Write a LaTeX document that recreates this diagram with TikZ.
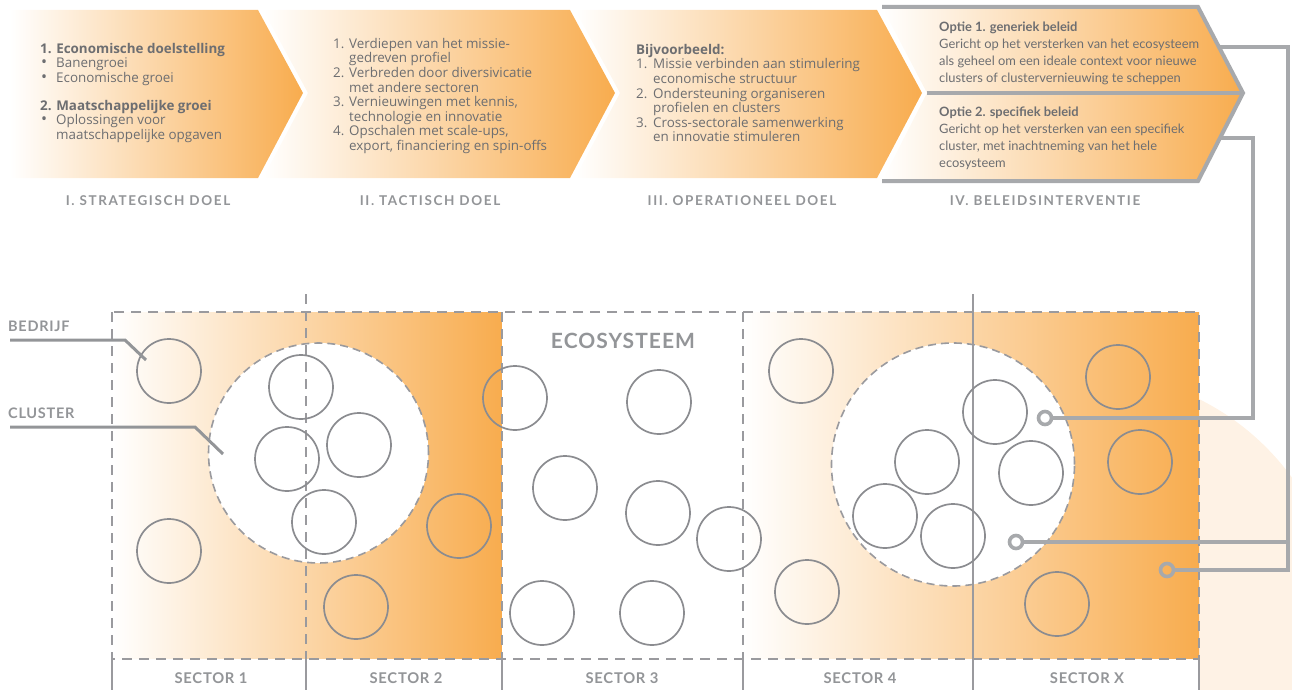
\documentclass[tikz,border=0pt]{standalone}
\usepackage{fontspec}
\setmainfont{Lato}
\newfontfamily\bodyfont{Open Sans}
\newfontfamily\capsfont[LetterSpace=12]{Lato}
\newfontfamily\sectfont[LetterSpace=5]{Lato}
\newcommand{\bul}{\makebox[16pt][l]{\hspace*{1pt}\smash{\fontsize{16}{14}\selectfont\textbullet}}}
\definecolor{orng}{HTML}{F8AC4E}
\definecolor{pale}{HTML}{FEF2E5}
\definecolor{txtgray}{HTML}{6D6E71}
\definecolor{lblgray}{HTML}{939598}
\definecolor{linegray}{HTML}{A7A9AC}
\definecolor{dashgray}{HTML}{9A9A9E}
\definecolor{circgray}{HTML}{8B8C90}
\begin{document}
\begin{tikzpicture}[x=1pt,y=-1pt,
  chevtxt/.style={anchor=north west,inner sep=0pt,align=left,text=txtgray,font=\bodyfont\fontsize{13.4}{14.6}\selectfont},
  opttxt/.style={anchor=north west,inner sep=0pt,align=left,text=txtgray,font=\fontsize{12.9}{17}\selectfont},
  steplbl/.style={anchor=base,inner sep=0pt,text=lblgray,font=\capsfont\bfseries\fontsize{13.5}{16}\selectfont},
  sectlbl/.style={anchor=base,inner sep=0pt,text=lblgray,font=\sectfont\bfseries\fontsize{14.8}{16}\selectfont},
  sidelbl/.style={anchor=base west,inner sep=0pt,text=lblgray,font=\sectfont\bfseries\fontsize{14.5}{16}\selectfont},
  firm/.style={circle,draw=circgray,line width=1.7pt,minimum size=64pt,inner sep=0pt},
  clusterc/.style={circle,fill=white,draw=dashgray,line width=1.6pt,dash pattern=on 8pt off 5pt,inner sep=0pt},
  dashln/.style={draw=dashgray,line width=1.8pt,dash pattern=on 10pt off 7pt},
  solidln/.style={draw=dashgray,line width=1.6pt},
  conn/.style={draw=linegray,line width=3.6pt},
  dotc/.style={circle,draw=linegray,line width=3.6pt,minimum size=13pt,inner sep=0pt},
  lead/.style={draw=lblgray,line width=3pt},
  frame/.style={draw=linegray,line width=4pt}
]
\useasboundingbox (0,0) rectangle (1292,690);
% background pale circle
\begin{scope}
  \clip (0,0) rectangle (1292,690);
  \fill[pale] (1087,626) circle (253);
\end{scope}
% chevrons
\shade[left color=white,right color=orng] (10,10) -- (258,10) -- (303,93) -- (258,178) -- (10,178) -- cycle;
\shade[left color=white,right color=orng] (263,10) -- (570,10) -- (615,93) -- (570,178) -- (263,178) -- (308,93) -- cycle;
\shade[left color=white,right color=orng] (575,10) -- (877,10) -- (922,93) -- (877,178) -- (575,178) -- (620,93) -- cycle;
\shade[left color=white,right color=orng] (882,7) -- (1198,7) -- (1243,93) -- (927,93) -- cycle;
\shade[left color=white,right color=orng] (927,93) -- (1243,93) -- (1198,181) -- (882,181) -- cycle;
\draw[frame,line join=miter] (882,7) -- (1198,7) -- (1243,93) -- (1198,181) -- (882,181);
\draw[frame] (927,93) -- (1241,93);
% chevron texts
\node[chevtxt] (s1) at (40,43) {\textbf{1. Economische doelstelling}\\
\bul Banengroei\\
\bul Economische groei\\[13pt]
\textbf{2. Maatschappelijke groei}\\
\bul Oplossingen voor\\
\hspace*{16pt}maatschappelijke opgaven};
\node[chevtxt] (s2) at (333,38) {\makebox[16pt][l]{1.}Verdiepen van het missie-\\
\hspace*{16pt}gedreven profiel\\
\makebox[16pt][l]{2.}Verbreden door diversivicatie\\
\hspace*{16pt}met andere sectoren\\
\makebox[16pt][l]{3.}Vernieuwingen met kennis,\\
\hspace*{16pt}technologie en innovatie\\
\makebox[16pt][l]{4.}Opschalen met scale-ups,\\
\hspace*{16pt}export, financiering en spin-offs};
\node[chevtxt] (s3) at (636,44) {\textbf{Bijvoorbeeld:}\\
\makebox[17pt][l]{1.}Missie verbinden aan stimulering\\
\hspace*{17pt}economische structuur\\
\makebox[17pt][l]{2.}Ondersteuning organiseren\\
\hspace*{17pt}profielen en clusters\\
\makebox[17pt][l]{3.}Cross-sectorale samenwerking\\
\hspace*{17pt}en innovatie stimuleren};
\node[opttxt] (o1t) at (939,22) {\textbf{Optie 1. generiek beleid}\\
Gericht op het versterken van het ecosysteem\\
als geheel om een ideale context voor nieuwe\\
clusters of clustervernieuwing te scheppen};
\node[opttxt] (o2t) at (939,107) {\textbf{Optie 2. specifiek beleid}\\
Gericht op het versterken van een specifiek\\
cluster, met inachtneming van het hele\\
ecosysteem};
\node[steplbl] (l1) at (148,205) {I. STRATEGISCH DOEL};
\node[steplbl] (l2) at (430,205) {II. TACTISCH DOEL};
\node[steplbl] (l3) at (742,205) {III. OPERATIONEEL DOEL};
\node[steplbl] (l4) at (1045,205) {IV. BELEIDSINTERVENTIE};
% ecosystem area
\shade[left color=white,right color=orng] (112,312) rectangle (502,659);
\fill[white] (502,312) rectangle (743,659);
\shade[left color=white,right color=orng] (743,312) rectangle (1199,659);
\fill[white] (112,659) rectangle (1199,690);
\node[clusterc,minimum size=220pt] (c1) at (318.5,453) {};
\node[clusterc,minimum size=243pt] (c2) at (953,464.5) {};
% dividers
\draw[dashln] (306,294) -- (306,659);
\draw[dashln] (502,312) -- (502,659);
\draw[dashln] (743,312) -- (743,659);
\draw[solidln] (973,294) -- (973,690);
\draw[dashln] (112,312) rectangle (1199,659);
\foreach \xx in {112,306,502,743,1199} \draw[solidln] (\xx,659) -- (\xx,690);
% firms
\foreach \nm/\cx/\cy in {b1/169/371,b2/169/551,b3/301/387,b4/359/445,b5/287/459,b6/324/522,b7/459/526,b8/356/607,
  b9/515/398,b10/659/402,b11/565/488,b12/658/513,b13/729/539,b14/542/613,b15/652/613,b16/801/371,b17/807/592,
  b18/927/462,b19/885/516,b20/953/536,b21/995/412,b22/1031/473,b23/1118/377,b24/1140/462,b25/1057/604}
  \node[firm] (\nm) at (\cx,\cy) {};
\node[anchor=base,inner sep=0pt,text=lblgray,font=\sectfont\bfseries\fontsize{21}{24}\selectfont] (eco) at (623,348) {ECOSYSTEEM};
% sector labels
\node[sectlbl] (sec1) at (211,683) {SECTOR 1};
\node[sectlbl] (sec2) at (406,683) {SECTOR 2};
\node[sectlbl] (sec3) at (622,683) {SECTOR 3};
\node[sectlbl] (sec4) at (860,683) {SECTOR 4};
\node[sectlbl] (secx) at (1087,683) {SECTOR X};
% side labels
\node[sidelbl] (bed) at (8,331) {BEDRIJF};
\node[sidelbl] (clu) at (8,418) {CLUSTER};
\coordinate (bedA) at (10,340);
\coordinate (bedB) at (125,340);
\coordinate (bedC) at (146,360);
\coordinate (cluA) at (10,427);
\coordinate (cluB) at (195,427);
\coordinate (cluC) at (223,454);
\draw[lead,line join=miter] (bedA) -- (bedB) -- (bedC);
\draw[lead,line join=miter] (cluA) -- (cluB) -- (cluC);
% connectors
\coordinate (op1) at (1219,47);
\coordinate (op2) at (1220,138);
\coordinate (t1) at (1288,570);
\coordinate (j1) at (1288,542);
\coordinate (t2) at (1253,418);
\node[dotc] (d1) at (1045,418) {};
\node[dotc] (d2) at (1016,542) {};
\node[dotc] (d3) at (1167,570) {};
\draw[conn,line join=miter] (op2) -| (t2) -- (d1.east);
\draw[conn,line join=miter] (op1) -| (t1) -- (d3.east);
\draw[conn] (j1) -- (d2.east);
\end{tikzpicture}
\end{document}
